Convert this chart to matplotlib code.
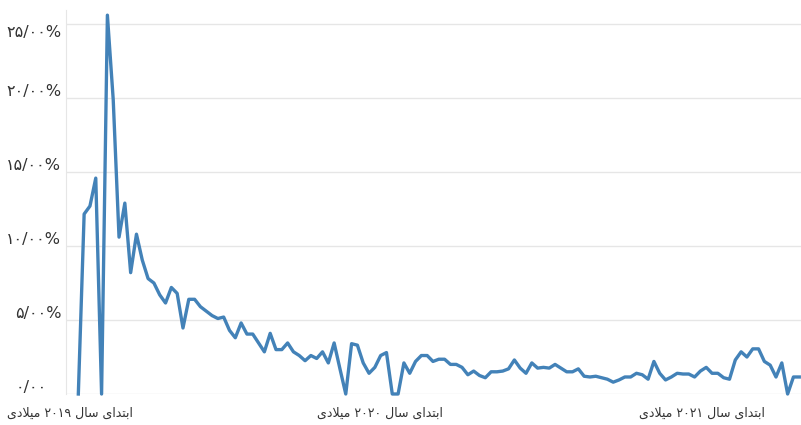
import matplotlib
matplotlib.use('Agg')
import matplotlib.pyplot as plt
from matplotlib.transforms import ScaledTranslation

# weekly share values, percent
values = [0, 12.16, 12.7, 14.59, 0, 25.6, 19.9, 10.6, 12.9, 8.2,
          10.8, 9.05, 7.8, 7.5, 6.7, 6.15, 7.2, 6.8, 4.46, 6.4,
          6.4, 5.9, 5.6, 5.3, 5.1, 5.2, 4.3, 3.8, 4.8, 4.05,
          4.05, 3.45, 2.85, 4.1, 3.0, 3.0, 3.45, 2.85, 2.6, 2.25,
          2.6, 2.4, 2.85, 2.1, 3.45, 1.7, 0, 3.4, 3.3, 2.1,
          1.4, 1.8, 2.6, 2.8, 0, 0, 2.1, 1.4, 2.2, 2.6,
          2.6, 2.2, 2.35, 2.35, 2.0, 2.0, 1.8, 1.3, 1.55, 1.25,
          1.1, 1.5, 1.5, 1.55, 1.7, 2.3, 1.75, 1.4, 2.1, 1.75,
          1.8, 1.75, 2.0, 1.75, 1.5, 1.5, 1.7, 1.2, 1.15, 1.2,
          1.1, 1.0, 0.8, 0.95, 1.15, 1.15, 1.4, 1.3, 1.0, 2.2,
          1.4, 0.95, 1.15, 1.4, 1.35, 1.35, 1.15, 1.55, 1.8, 1.4,
          1.4, 1.1, 1.0, 2.3, 2.85, 2.5, 3.05, 3.05, 2.2, 1.95,
          1.15, 2.1, 0, 1.15, 1.15]

y_ticks = [0, 5, 10, 15, 20, 25]
x_tick_labels = ['ابتدای سال ۲۰۱۹ میلادی',
                 'ابتدای سال ۲۰۲۰ میلادی',
                 'ابتدای سال ۲۰۲۱ میلادی']
x_tick_pos = [-1.5, 51.9, 107.3]

#----------- minimal arabic shaping (matplotlib does no shaping / bidi)
FORMS = {
    'ا': ('\uFE8D', '\uFE8E', None, None),
    'ب': ('\uFE8F', '\uFE90', '\uFE91', '\uFE92'),
    'ت': ('\uFE95', '\uFE96', '\uFE97', '\uFE98'),
    'د': ('\uFEA9', '\uFEAA', None, None),
    'س': ('\uFEB1', '\uFEB2', '\uFEB3', '\uFEB4'),
    'ل': ('\uFEDD', '\uFEDE', '\uFEDF', '\uFEE0'),
    'م': ('\uFEE1', '\uFEE2', '\uFEE3', '\uFEE4'),
    'ی': ('\uFEEF', '\uFEF0', '\uFEF3', '\uFEF4'),
}
LAM_ALEF = ('\uFEFB', '\uFEFC')


def shape_word(w):
    letters = []
    i = 0
    while i < len(w):
        if w[i] == 'ل' and i + 1 < len(w) and w[i + 1] == 'ا':
            letters.append('لا')
            i += 2
        else:
            letters.append(w[i])
            i += 1

    def joins_next(c):
        return c in FORMS and FORMS[c][2] is not None

    out = []
    for k, c in enumerate(letters):
        prev = letters[k - 1] if k > 0 else None
        nxt = letters[k + 1] if k + 1 < len(letters) else None
        a = prev is not None and joins_next(prev)
        b = nxt is not None and (nxt in FORMS or nxt == 'لا') and joins_next(c)
        if c == 'لا':
            out.append(LAM_ALEF[1] if a else LAM_ALEF[0])
        elif c not in FORMS:
            out.append(c)
        else:
            iso, fin, ini, med = FORMS[c]
            out.append(med if (a and b) else fin if a else ini if b else iso)
    return ''.join(out)


def rtl(text):
    words = []
    for w in text.split(' '):
        if any(ch in FORMS for ch in w):
            words.append(shape_word(w)[::-1])
        else:
            words.append(w)
    return ' '.join(words[::-1])


def fa_num(s):
    return s.translate(str.maketrans('0123456789.', '۰۱۲۳۴۵۶۷۸۹/'))


def y_label(v):
    s = fa_num('%.2f' % v)
    return s if v == 0 else s + '%'
#-----------

fig = plt.figure(figsize=(8.01, 4.25), dpi=100)
ax = fig.add_axes([66 / 801, 31 / 425, 1 - 66 / 801, 384 / 425])

ax.plot(range(len(values)), values, color='#4382b8', lw=2.4,
        solid_joinstyle='round', clip_on=False, zorder=3)

ax.set_xlim(-2.12, 124.3)
ax.set_ylim(0, 25.95)

ax.set_yticks(y_ticks)
ax.set_yticklabels([y_label(v) for v in y_ticks], fontsize=11.5,
                   color='#333333', family='DejaVu Sans')
ax.set_xticks(x_tick_pos)
ax.set_xticklabels([rtl(t) for t in x_tick_labels], fontsize=9,
                   color='#333333', family='DejaVu Sans')
ax.tick_params(axis='both', length=0)
ax.tick_params(axis='y', pad=3.5)
ax.tick_params(axis='x', pad=9)

# the labels sit a little above their grid lines, the top one below;
# the zero label keeps the room of the missing % sign
for lab, v in zip(ax.get_yticklabels(), y_ticks):
    dy = -5 if v == 25 else 6
    dx = -10 if v == 0 else 0
    lab.set_transform(lab.get_transform() +
                      ScaledTranslation(dx / 72, dy / 72, fig.dpi_scale_trans))

ax.grid(axis='y', color='#e6e6e6', lw=1)
ax.set_axisbelow(True)
for s in ['top', 'right', 'bottom']:
    ax.spines[s].set_visible(False)
ax.spines['left'].set_color('#e6e6e6')

fig.savefig('out.png', dpi=100)
